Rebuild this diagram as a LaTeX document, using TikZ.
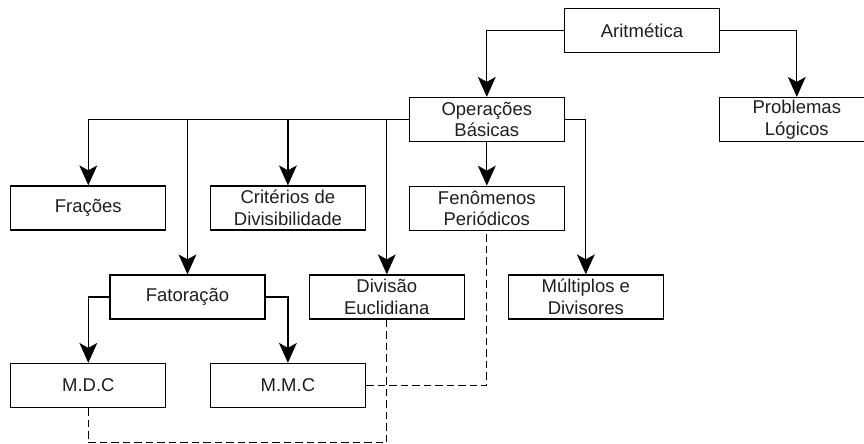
\documentclass[tikz,border=0pt]{standalone}
\usepackage{fontspec}
\setmainfont{Liberation Sans}
\usetikzlibrary{arrows.meta}

\tikzset{
  topic/.style={draw=black, line width=1.3pt, fill=white, minimum width=155pt,
    minimum height=44pt, inner sep=0pt, align=center,
    font=\fontsize{18.5}{21.5}\selectfont, text=black!88},
  headtip/.tip={Stealth[length=20pt, width=18pt, inset=5pt, line width=0pt]},
  link/.style={draw=black, line width=1.3pt, arrows={-headtip}},
  relation/.style={draw=black, line width=1.3pt, dash pattern=on 7.5pt off 4pt}
}

\begin{document}
\begin{tikzpicture}[x=1pt, y=-1pt]
  \useasboundingbox (0,0) rectangle (864,444);
  \clip (0,0) rectangle (864,444);

  % concept boxes
  \node[topic] (arit) at (642,30.5)   {Aritmética};
  \node[topic] (oper) at (486.8,119.5) {Operações\\Básicas};
  \node[topic] (prob) at (796.8,119.5) {Problemas\\Lógicos};
  \node[topic] (frac) at (88.3,208)    {Frações};
  \node[topic] (crit) at (287.9,208)   {Critérios de\\Divisibilidade};
  \node[topic] (fen)  at (486.8,208.3) {Fenômenos\\Periódicos};
  \node[topic] (fat)  at (187.5,297)   {Fatoração};
  \node[topic] (div)  at (386.8,297)   {Divisão\\Euclidiana};
  \node[topic] (mult) at (585.8,297)   {Múltiplos e\\Divisores};
  \node[topic] (mdc)  at (88.3,385.5)  {M.D.C};
  \node[topic] (mmc)  at (287.9,385.5) {M.M.C};

  % hierarchy
  \draw[link] (arit.west) -| (oper.north);
  \draw[link] (arit.east) -| (prob.north);
  \draw[link] (oper.west) -| (frac.north);
  \draw[link] (oper.west) -| (fat.north);
  \draw[link] (oper.west) -| (crit.north);
  \draw[link] (oper.west) -| (div.north);
  \draw[link] (oper.south) -- (fen.north);
  \draw[link] (oper.east) -| (mult.north);
  \draw[link] (fat.west) -| (mdc.north);
  \draw[link] (fat.east) -| (mmc.north);

  % cross relations
  \coordinate (low) at (0,442.7);
  \draw[relation] (mmc.east) -| (fen.south);
  \draw[relation] (div.south) -- (div.south |- low) -| (mdc.south);
\end{tikzpicture}
\end{document}
